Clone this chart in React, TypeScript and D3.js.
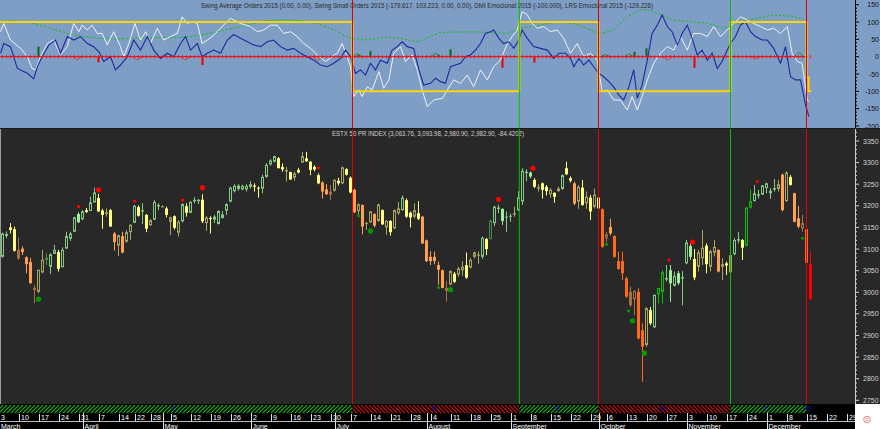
import * as d3 from "d3";

const W = 880;
const H = 429;
const PLOT_RIGHT = 855;
const TOP_H = 128;
const BOTTOM_Y = 404;
const BG_DARK = "#282828";
const BG_BLUE = "#7e9ec6";
const FONT = "Liberation Sans, Arial, sans-serif";

// daily candles, March -> mid December 2015 (ESTX 50)
const opens = [3082,3130,3150,3146,3098,3101,3081,3070,3010,3001,3046,3075,3059,3089,3093,3058,3101,3124,3140,3181,3169,3190,3188,3208,3218,3189,3185,3190,3136,3108,3130,3117,3139,3161,3197,3189,3179,3155,3168,3200,3199,3194,3163,3176,3138,3164,3199,3184,3212,3213,3214,3160,3172,3168,3158,3172,3189,3210,3234,3239,3238,3238,3244,3247,3242,3240,3267,3296,3302,3310,3290,3282,3278,3265,3283,3300,3310,3302,3290,3271,3254,3238,3233,3235,3258,3252,3285,3265,3237,3188,3202,3160,3162,3181,3165,3190,3150,3165,3148,3183,3190,3213,3184,3175,3183,3175,3120,3082,3082,3063,3051,3003,3018,3043,3041,3051,3063,3057,3082,3087,3082,3123,3123,3160,3194,3193,3175,3177,3181,3190,3210,3278,3277,3260,3243,3252,3244,3227,3230,3234,3239,3287,3264,3252,3210,3242,3206,3219,3198,3219,3192,3125,3151,3130,3072,3072,3032,3001,2984,3001,2912,2878,2959,2919,2995,3001,3032,3051,3015,3044,3035,3067,3107,3077,3059,3079,3108,3059,3092,3098,3065,3067,3046,3088,3120,3121,3108,3196,3211,3226,3226,3241,3229,3239,3239,3272,3211,3267,3229,3171,3148,3146,3065];
const highs = [3138,3141,3160,3152,3127,3106,3083,3079,3017,3052,3098,3090,3090,3110,3098,3104,3140,3140,3175,3185,3190,3195,3221,3242,3228,3193,3194,3193,3140,3133,3140,3144,3158,3202,3201,3206,3181,3169,3213,3206,3201,3198,3175,3178,3167,3206,3206,3211,3220,3216,3227,3176,3176,3179,3190,3188,3206,3244,3250,3250,3249,3250,3257,3252,3245,3272,3299,3308,3316,3313,3298,3290,3279,3279,3288,3325,3325,3304,3294,3275,3257,3250,3248,3262,3265,3291,3287,3268,3240,3206,3203,3163,3188,3183,3205,3192,3167,3167,3192,3209,3224,3217,3187,3206,3211,3177,3122,3095,3094,3071,3053,3026,3051,3047,3059,3072,3092,3079,3094,3094,3129,3126,3167,3200,3203,3194,3187,3182,3198,3234,3287,3285,3279,3264,3250,3254,3248,3241,3231,3244,3273,3302,3268,3256,3248,3260,3233,3225,3240,3237,3194,3140,3170,3132,3094,3094,3036,3013,3005,3009,2928,2966,2966,2995,3010,3051,3063,3063,3048,3049,3049,3121,3117,3100,3098,3144,3113,3099,3121,3099,3079,3071,3090,3125,3140,3123,3197,3237,3248,3237,3248,3254,3241,3262,3260,3275,3280,3271,3230,3200,3179,3148,3095];
const lows = [3080,3125,3136,3094,3075,3086,3044,3020,2975,2998,3044,3063,3042,3089,3048,3058,3101,3119,3140,3160,3167,3183,3188,3208,3186,3147,3175,3152,3096,3084,3090,3115,3121,3160,3175,3158,3139,3154,3167,3190,3196,3173,3132,3145,3129,3162,3175,3183,3206,3204,3160,3142,3136,3160,3157,3170,3179,3208,3231,3235,3236,3233,3240,3233,3219,3229,3265,3293,3300,3287,3279,3256,3260,3258,3275,3300,3302,3271,3280,3250,3217,3225,3213,3233,3247,3250,3270,3229,3183,3179,3134,3144,3160,3150,3163,3156,3133,3131,3146,3179,3189,3172,3150,3171,3167,3112,3070,3063,3065,3017,3009,2978,3016,3021,3036,3038,3031,3055,3078,3066,3077,3086,3123,3153,3183,3156,3140,3163,3175,3188,3202,3257,3264,3241,3233,3217,3224,3219,3207,3233,3237,3271,3254,3202,3193,3200,3193,3167,3194,3192,3103,3116,3132,3080,3052,3028,2987,2966,2947,2891,2793,2874,2924,2917,2974,2974,3025,2978,3013,3017,2970,3065,3075,3028,3048,3063,3044,3048,3083,3046,3028,3040,3044,3086,3113,3075,3106,3194,3210,3217,3225,3229,3216,3233,3233,3187,3209,3247,3162,3148,3140,3067,2982];
const closes = [3136,3135,3144,3096,3078,3093,3065,3021,3005,3052,3075,3080,3088,3098,3054,3098,3130,3136,3173,3162,3187,3186,3208,3231,3187,3179,3181,3152,3116,3132,3092,3139,3156,3200,3177,3190,3147,3167,3209,3202,3198,3179,3173,3149,3163,3204,3184,3209,3214,3214,3164,3173,3170,3175,3188,3180,3204,3242,3246,3247,3246,3246,3250,3244,3240,3267,3295,3305,3315,3287,3284,3283,3261,3275,3277,3315,3303,3283,3284,3252,3233,3227,3226,3260,3252,3289,3272,3231,3185,3203,3152,3158,3187,3154,3203,3157,3165,3139,3190,3194,3219,3175,3173,3190,3170,3113,3072,3072,3072,3052,3010,3010,3049,3024,3055,3059,3034,3075,3092,3086,3126,3100,3166,3198,3196,3165,3175,3176,3183,3219,3281,3279,3268,3244,3240,3237,3234,3237,3221,3240,3271,3273,3258,3205,3244,3202,3221,3187,3226,3194,3105,3134,3136,3082,3054,3044,2990,2970,3003,2893,2874,2963,2928,2994,3010,3046,3033,3021,3038,3021,3032,3115,3082,3034,3092,3103,3065,3095,3105,3048,3059,3062,3086,3121,3123,3103,3196,3211,3229,3227,3247,3252,3235,3241,3250,3190,3277,3248,3163,3152,3160,3068,2984];
// colour class of each candle as the chart paints it
const candleKinds =
  "ggyybOOObo" + "odggyggggG" + "gyggyyoyOo" + "Ooogygyogg" + "oyoyogyggg" +
  "yoyggggggg" + "gggyyggggy" + "yoyoyoyyyy" + "OOboyoyyOo" + "OooOoyoyoo" +
  "gyyoyOOOOO" + "Oboyooyooo" + "gydggGggog" + "ggGyoyyoyo" + "gyyOoyoyoy" +
  "RbORRRRbbR" + "RoygBBgGgG" + "ggGyooyooO" + "oyoggyBBgg" + "ggggoOoyOO" + "bRr";

const KIND_COLOR: Record<string, string> = {
  g: "#86c986", G: "#9af09a", y: "#ffff80", o: "#a6a662", O: "#ffa050",
  b: "#a87040", d: "#4e8a4e", B: "#00c400", R: "#ff6a1a", r: "#ff0000",
};

// sell / buy dots [day, price, big]
const sellDots: [number, number, number][] = [
  [19, 3198, 0], [24, 3237, 1], [33, 3211, 0], [45, 3213, 0], [50, 3242, 1], [79, 3288, 0],
  [124, 3215, 1], [132.6, 3287, 1], [166.6, 3075, 0], [172.5, 3116, 1], [188.7, 3256, 0],
];
const buyDots: [number, number, number][] = [
  [9, 2984, 1], [89, 3177, 0], [92, 3142, 1], [109, 3011, 0], [112, 3006, 1], [151, 3111, 0],
  [156.5, 2957, 0], [157.5, 2934, 1], [160.5, 2859, 1], [200, 3125, 0],
];

// signal changes (day) and their colour
const signalDays = [87.5, 129.2, 149, 182, 201];
const signalColors = ["#e00000", "#00c000", "#e00000", "#00c000", "#e00000"];
const bandSegments: [number, number, string][] = [
  [-0.625, 87.5, "g"], [87.5, 129.2, "r"], [129.2, 149, "g"], [149, 182, "r"], [182, 201, "g"],
];
const bandDiamonds = [43, 108, 138.6, 165, 191, 201.4];

// oscillator pane
const lrsSteps: [number, number][] = [
  [-1, 100], [87.5, -100], [129.2, 100], [149, -100], [182, 100], [201, -60], [201.5, -100], [202.2, -100],
];
const dmiDotted: [number, number][] = [
  [-0.5, 101], [2.8, 104], [7.8, 96], [12, 82], [16.2, 67], [20.3, 58], [24.5, 53], [28.7, 51], [32.8, 53],
  [37, 55], [41.2, 55], [45.3, 56], [49.5, 62], [53.7, 72], [57.8, 82], [62, 93], [66.2, 104], [70.3, 106],
  [74.5, 104], [78.7, 96], [82.8, 77], [87, 53], [91.2, 48], [95.3, 56], [99.5, 53], [103.7, 43], [107.8, 62],
  [109.5, 70], [117.8, 72], [126.2, 67], [129.5, 82], [134.5, 91], [138.7, 101], [142.8, 96], [147, 77],
  [149.5, 67], [152.8, 77], [156.2, 115], [159.5, 135], [161.2, 135], [163.7, 125], [167.8, 106], [172, 101],
  [176.2, 96], [180.3, 82], [182.8, 91], [186.2, 106], [192.8, 120], [197, 117], [199.5, 111],
];
const smallOrders: [number, number][] = [
  [-0.5, 72], [0.3, 96], [2, 48], [4.5, 24], [6.2, 0], [7.4, -34], [8.25, -38], [9.5, 0], [11.2, 38], [12.8, 48],
  [14.5, 5], [16.2, 29], [17.8, 96], [19.1, 72], [19.9, 91], [21.2, 77], [22.4, 91], [23.7, 67], [24.9, 67],
  [26.2, 34], [27.8, 72], [29.5, 29], [30.3, 0], [31.6, 38], [33.1, 96], [34.5, 48], [35.8, 72], [37, 38],
  [38.7, 82], [40.3, 48], [42, 58], [43.7, 67], [44.9, 115], [46.2, 96], [47.4, 101], [48.7, 96], [49.9, 38],
  [51.2, 48], [52.8, 62], [54.5, 82], [57, 111], [59.5, 96], [62, 87], [63.7, 72], [65.3, 77], [67, 91],
  [68.7, 91], [70.3, 67], [72, 72], [73.7, 58], [75.3, 38], [77, 24], [78.7, 5], [80.75, -14], [82.4, 0],
  [83.7, 10], [84.9, 38], [86.2, 0], [87, -29], [87.8, -115], [89.1, -96], [89.9, -115], [91.2, -87],
  [92.4, -96], [94.1, -43], [95.3, -91], [96.6, -67], [97.8, 10], [99.5, 29], [100.75, -14], [102.4, 5],
  [103.7, -38], [104.9, -96], [106.2, -144], [107.8, -125], [110, -120], [111.2, -96], [112.8, -67],
  [114.5, -77], [116.2, -53], [117.8, -87], [119.5, -38], [121.2, -67], [122.8, -29], [124.5, -10],
  [126.2, 38], [127.4, 58], [128.7, 77], [129.9, 130], [131.2, 121], [132.4, 96], [133.7, 82], [135.3, 87],
  [137, 72], [138.7, 77], [140.3, 53], [142, 10], [143.7, 38], [145.3, 0], [147, 10], [148.7, -10],
  [149.9, -101], [151.2, -96], [152.8, -125], [154.5, -125], [156.2, -154], [157.4, -115], [158.7, -154],
  [159.9, -115], [161.2, -67], [162.8, -19], [164.5, 10], [166.2, 29], [167.8, 19], [169.5, 58], [171.2, 19],
  [172.8, 67], [174.5, 67], [176.2, 58], [177.8, 87], [179.5, 58], [181.2, 77], [182.8, 96], [184.5, 115],
  [186.2, 106], [187.8, 96], [189.5, 87], [191.2, 77], [192.8, 82], [194.5, 67], [196.2, 87], [197.4, 10],
  [198.7, -14], [199.9, -19], [201.2, -125], [201.6, -130],
];
const avgOrders: [number, number][] = [
  [-0.5, 10], [0.3, 38], [2, 29], [3.7, -34], [6.2, -48], [7.8, -64], [8.7, -29], [9.9, 0], [11.6, 34],
  [13.25, 48], [14.5, 10], [16.2, 58], [17.8, 48], [19.5, 58], [21.2, 38], [22.8, 29], [24.1, 14], [25.3, -14],
  [27, 0], [28.25, -38], [29.5, -24], [31.2, 0], [32.8, 48], [34.5, 19], [36.2, 58], [37.8, 19], [39.5, -5],
  [41.2, 10], [42.8, 0], [44.5, 38], [45.75, 58], [47, 19], [48.7, 38], [49.9, 0], [51.2, 10], [52.8, 19],
  [54.5, 10], [56.2, 48], [57.8, 64], [59.5, 53], [61.2, 43], [62.8, 34], [64.5, 29], [66.2, 43], [67.8, 48],
  [69.5, 29], [71.2, 19], [72.8, 24], [74.5, 10], [76.2, 0], [77.8, -10], [79.5, -24], [81.2, -29], [82.8, -19],
  [84.5, -5], [85.75, 19], [87, 0], [88.25, -48], [89.5, -38], [90.75, -53], [92, -19], [93.25, -38],
  [94.5, -10], [96.2, -19], [97.4, 19], [98.7, 29], [99.9, 43], [101.2, 29], [102.8, 24], [104.1, -38],
  [105.3, -82], [107, -77], [108.25, -62], [109.5, -72], [110.75, -77], [112, -29], [113.25, -24], [114.5, -19],
  [115.75, 0], [117, 5], [118.25, 19], [119.5, 38], [120.75, 67], [122, 72], [122.8, 77], [124.1, 53],
  [125.3, 38], [126.6, 43], [127.8, 24], [129.1, 48], [129.9, 77], [131.2, 53], [132.8, 29], [134.5, 24],
  [136.2, 19], [137.8, -5], [139.1, 10], [140.75, 10], [142, -5], [142.8, -29], [144.1, -5], [145.3, -24],
  [146.6, -10], [147.8, -29], [149.1, -48], [150.3, -58], [151.6, -72], [152.8, -87], [154.1, -111],
  [155.3, -125], [156.6, -87], [157.8, -38], [158.7, -120], [159.9, -82], [161.2, -10], [162.4, 67],
  [163.7, 91], [164.9, 120], [166.2, 87], [167.4, 72], [168.7, 34], [169.9, 67], [171.2, 91], [172.4, 53],
  [173.7, 5], [174.9, 19], [176.2, -10], [177.4, 10], [178.7, -34], [179.9, -14], [181.2, 19], [182, 38],
  [183.25, 58], [184.5, 91], [185.75, 101], [187, 72], [188.25, 58], [189.9, 48], [191.2, 48], [192.8, 24],
  [194.5, -19], [195.75, 29], [197, -58], [198.25, -67], [199.5, -67], [200.75, -139], [201.6, -173],
];
const histBars: [number, number][] = [
  [9, 29], [24, -16], [50, -24], [89, 6], [92, 16], [109, 6], [112, 21], [125, -32], [133, -17],
  [158, 14], [161, 24], [173, -32],
];
const spikes: [number, number][] = [
  [18.7, -10], [33.7, -10], [45.75, -10], [78.7, -12], [88.7, 8], [108.25, 10], [150.75, 6],
  [156.6, 8], [166.2, -10], [188.25, -8], [199.1, 12],
];

// time axis
const weekTickDays = [0,5,10,15,20,25,30,34,38,43,48,53,58,63,68,73,78,83,88,93,98,103,108,113,118,123,128,133,138,143,148,152,157,162,167,172,177,182,187,192,197,202,207,212];
const weekTickLabels = ["3","10","17","24","31","7","14","22","28","5","12","19","26","2","9","16","23","30","7","14","21","28","4","11","18","25","1","8","15","22","29","6","13","20","27","3","10","17","24","1","8","15","22","29"];
const monthDays = [-0.4, 21, 41, 63, 84, 107, 128, 150, 172, 192];
const monthLabels = ["March","April","May","June","July","August","September","October","November","December"];

const oscTitle = "Swing Average Orders 2015 (0.00, 0.00), Swing Small Orders 2015 (-179.617, 103.223, 0.00, 0.00), DMI Emocional 2015 (-100.000), LRS Emocional 2015 (-129.226)";
const priceTitle = "ESTX 50 PR INDEX (3,063.76, 3,093.98, 2,980.90, 2,982.90, -84.4202)";

const xScale = d3.scaleLinear().domain([0, 213]).range([2.5, 854.5]);
const priceY = d3.scaleLinear().domain([2750, 3350]).range([400.3, 141]);
const oscY = d3.scaleLinear().domain([-200, 150]).range([126, 4.7]);

export default function App() {
  const lineGen = d3.line<[number, number]>().x((p) => xScale(p[0])).y((p) => oscY(p[1]));
  const stepGen = d3.line<[number, number]>().x((p) => xScale(p[0])).y((p) => oscY(p[1])).curve(d3.curveStepAfter);
  const y0 = oscY(0);

  const zeroTicks = d3.range(0, 203).map((i) => `M${xScale(i)},${y0 - 1.5}V${y0 + 1.5}`).join("");

  const priceMajor = d3.range(2750, 3351, 50);
  const priceMinor = d3.range(2740, 3400, 10).filter((v) => priceY(v) > 129 && priceY(v) < BOTTOM_Y);
  const oscMajor = d3.range(-200, 151, 50);
  const oscMinor = d3.range(-200, 160, 10);

  return (
    <div style={{ width: W, height: H }}>
      <style>{`body{margin:0;background:#fff}`}</style>
      <svg width={W} height={H} style={{ display: "block", fontFamily: FONT }}>
        <defs>
          <pattern id="hatchG" width="4" height="4" patternUnits="userSpaceOnUse">
            <rect width="4" height="4" fill="#000" />
            <path d="M-1,1 L1,-1 M0,4 L4,0 M3,5 L5,3" stroke="#18b818" strokeWidth="1.2" />
          </pattern>
          <pattern id="hatchR" width="4" height="4" patternUnits="userSpaceOnUse">
            <rect width="4" height="4" fill="#000" />
            <path d="M-1,3 L1,5 M0,0 L4,4 M3,-1 L5,1" stroke="#d01414" strokeWidth="1.2" />
          </pattern>
          <clipPath id="plotClip">
            <rect x={0} y={0} width={PLOT_RIGHT} height={BOTTOM_Y} />
          </clipPath>
          <clipPath id="oscClip">
            <rect x={0} y={0} width={PLOT_RIGHT} height={TOP_H} />
          </clipPath>
        </defs>

        {/* price pane */}
        <rect x={0} y={TOP_H} width={W} height={BOTTOM_Y - TOP_H} fill={BG_DARK} />
        <line x1={0.5} x2={0.5} y1={TOP_H} y2={BOTTOM_Y} stroke="#9a9a9a" />
        <g clipPath="url(#plotClip)">
          {opens.map((o, i) => {
            const c = closes[i];
            const k = candleKinds[i];
            const col = KIND_COLOR[k];
            const cx = xScale(i);
            const top = priceY(Math.max(o, c));
            const bot = priceY(Math.min(o, c));
            const hollow = c > o && k !== "G";
            const bh = Math.max(1, bot - top);
            return (
              <g key={i}>
                <rect x={cx - 0.5} y={priceY(highs[i])} width={1} height={priceY(lows[i]) - priceY(highs[i])} fill={col} />
                {hollow ? (
                  <rect x={cx - 1} y={top + 0.5} width={2} height={Math.max(0.5, bh - 1)} fill={BG_DARK} stroke={col} strokeWidth={1} />
                ) : (
                  <rect x={cx - 1.5} y={top} width={3} height={bh} fill={col} />
                )}
              </g>
            );
          })}
          {sellDots.map(([d, p, big], i) => (
            <circle key={"s" + i} cx={xScale(d)} cy={priceY(p)} r={big ? 2.6 : 1.6} fill="#ff0000" />
          ))}
          {buyDots.map(([d, p, big], i) => (
            <circle key={"b" + i} cx={xScale(d)} cy={priceY(p)} r={big ? 2.6 : 1.6} fill="#009a00" />
          ))}
        </g>
        <text x={332} y={136} fontSize={7} fill="#cfcfcf" textLength={192} lengthAdjust="spacingAndGlyphs">
          {priceTitle}
        </text>

        {/* oscillator pane */}
        <rect x={0} y={0} width={W} height={TOP_H} fill={BG_BLUE} />
        <g clipPath="url(#oscClip)">
          {histBars.map(([d, v], i) => (
            <rect key={i} x={xScale(d) - 1} y={Math.min(y0, oscY(v))} width={2} height={Math.abs(oscY(v) - y0)}
              fill={v > 0 ? "#0a6a0a" : "#ee0000"} />
          ))}
          {spikes.map(([d, v], i) => (
            <path key={i} d={`M${xScale(d - 1.2)},${y0}L${xScale(d)},${oscY(v)}L${xScale(d + 1.2)},${y0}`}
              fill="none" stroke={v > 0 ? "#1a7a1a" : "#e03030"} strokeWidth={0.8} />
          ))}
          <path d={lineGen(dmiDotted) ?? ""} fill="none" stroke="#10c010" strokeWidth={1} strokeDasharray="2,2" />
          <path d={lineGen(smallOrders) ?? ""} fill="none" stroke="#f2f2f2" strokeWidth={1} />
          <path d={lineGen(avgOrders) ?? ""} fill="none" stroke="#1c2a9c" strokeWidth={1.1} />
          <line x1={xScale(-0.6)} x2={xScale(201.4)} y1={y0} y2={y0} stroke="#ff0000" strokeWidth={1} />
          <path d={zeroTicks} stroke="#ff0000" strokeWidth={0.8} />
          <path d={stepGen(lrsSteps) ?? ""} fill="none" stroke="#ffd400" strokeWidth={2} />
        </g>
        <text x={201} y={7.5} fontSize={7} fill="#2a2a2a" textLength={452} lengthAdjust="spacingAndGlyphs">
          {oscTitle}
        </text>

        {/* signal lines */}
        {signalDays.map((d, i) => (
          <line key={i} x1={xScale(d)} x2={xScale(d)} y1={0} y2={BOTTOM_Y} stroke={signalColors[i]} strokeWidth={1} />
        ))}

        {/* osc axis */}
        <line x1={PLOT_RIGHT + 0.5} x2={PLOT_RIGHT + 0.5} y1={0} y2={TOP_H} stroke="#000" />
        {oscMinor.map((v) => (
          <line key={v} x1={PLOT_RIGHT} x2={PLOT_RIGHT + (v % 50 === 0 ? 4 : 2)} y1={oscY(v)} y2={oscY(v)} stroke="#000" />
        ))}
        {oscMajor.map((v) => (
          <text key={v} x={879} y={oscY(v) + 2.5} fontSize={7} fill="#111" textAnchor="end">{v}</text>
        ))}
        <line x1={0} x2={W} y1={TOP_H + 0.5} y2={TOP_H + 0.5} stroke="#1a1a1a" />

        {/* price axis */}
        <line x1={PLOT_RIGHT + 0.5} x2={PLOT_RIGHT + 0.5} y1={TOP_H + 1} y2={BOTTOM_Y} stroke="#cfcfcf" />
        {priceMinor.map((v) => (
          <line key={v} x1={PLOT_RIGHT} x2={PLOT_RIGHT + (v % 50 === 0 ? 4 : 2)} y1={priceY(v)} y2={priceY(v)} stroke="#cfcfcf" />
        ))}
        {priceMajor.map((v) => (
          <text key={v} x={863} y={priceY(v) + 2.5} fontSize={7} fill="#d0d0d0">{v}</text>
        ))}

        {/* signal band */}
        <rect x={0} y={BOTTOM_Y} width={PLOT_RIGHT} height={H - BOTTOM_Y} fill="#000" />
        {bandSegments.map(([a, b, c], i) => (
          <rect key={i} x={xScale(a)} y={BOTTOM_Y + 1} width={xScale(b) - xScale(a)} height={8}
            fill={c === "g" ? "url(#hatchG)" : "url(#hatchR)"} />
        ))}
        {bandDiamonds.map((d, i) => (
          <path key={i} d={`M${xScale(d)},${406}l2.2,2.5l-2.2,2.5l-2.2,-2.5z`} fill="none" stroke="#1010d0" strokeWidth={1} />
        ))}

        {/* date axis */}
        <line x1={0} x2={PLOT_RIGHT} y1={421.5} y2={421.5} stroke="#bdbdbd" />
        {weekTickDays.map((d, i) => {
          const x = Math.round(xScale(d) - 3.5) + 0.5;
          return (
            <g key={i}>
              <line x1={x} x2={x} y1={414} y2={421} stroke="#e0e0e0" />
              <text x={Math.max(0.5, x + 1.5)} y={420} fontSize={7} fill="#ffffff">{weekTickLabels[i]}</text>
            </g>
          );
        })}
        {monthDays.map((d, i) => {
          const x = Math.round(xScale(d) - 3.5) + 0.5;
          return (
            <g key={i}>
              <line x1={x} x2={x} y1={413} y2={H} stroke="#e0e0e0" />
              <text x={Math.max(1, x + 1)} y={428.5} fontSize={7} fill="#ffffff">{monthLabels[i]}</text>
            </g>
          );
        })}

        {/* corner */}
        <rect x={PLOT_RIGHT + 1} y={BOTTOM_Y + 1} width={W - PLOT_RIGHT - 1} height={H - BOTTOM_Y - 1} fill="#ffffff" />
        <circle cx={867} cy={419.5} r={3.3} fill="none" stroke="#f07070" strokeWidth={0.9} />
        <path d="M865.3,420.8 q1.7,-1.6 3.4,0" fill="none" stroke="#f07070" strokeWidth={0.8} />
        <circle cx={866} cy={418.5} r={0.5} fill="#f07070" />
        <circle cx={868} cy={418.5} r={0.5} fill="#f07070" />
      </svg>
    </div>
  );
}
